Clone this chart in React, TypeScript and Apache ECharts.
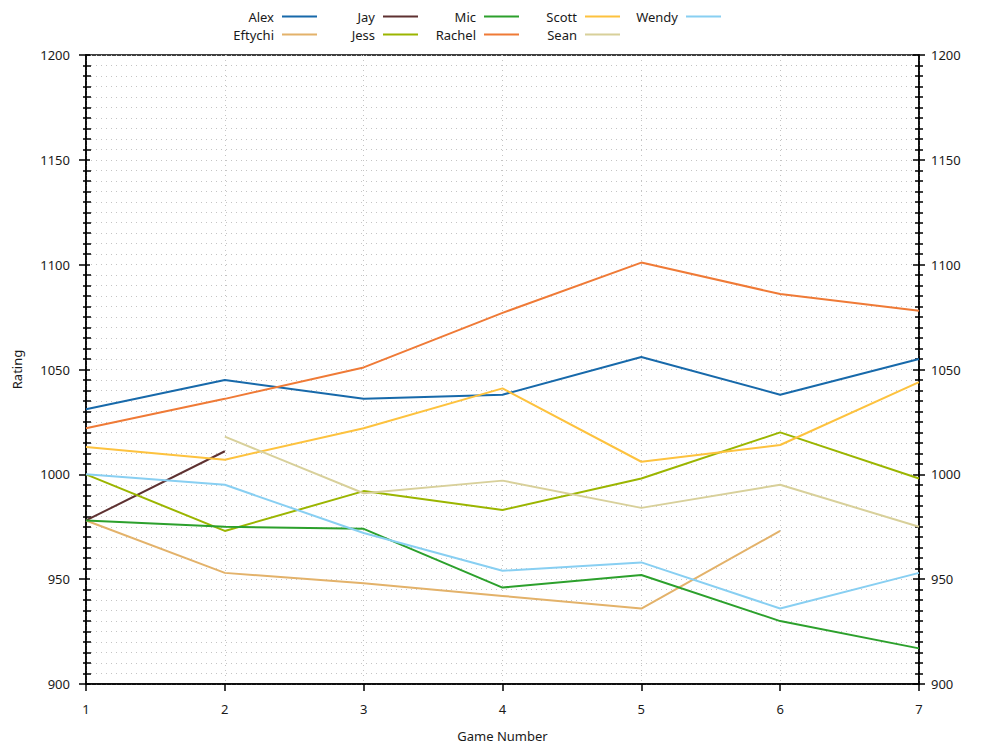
import React, { useEffect, useRef } from "react";
import * as echarts from "echarts";

const games = [1, 2, 3, 4, 5, 6, 7];
const players = ["Alex", "Eftychi", "Jay", "Jess", "Mic", "Rachel", "Scott", "Sean", "Wendy"];
const legendOrder = ["Alex", "Jay", "Mic", "Scott", "Wendy", "Eftychi", "Jess", "Rachel", "Sean"];

const alex = [1031, 1045, 1036, 1038, 1056, 1038, 1055];
const eftychi = [978, 953, 948, 942, 936, 973, null];
const jay = [978, 1011, null, null, null, null, null];
const jess = [1000, 973, 992, 983, 998, 1020, 998];
const mic = [978, 975, 974, 946, 952, 930, 917];
const rachel = [1022, 1036, 1051, 1077, 1101, 1086, 1078];
const scott = [1013, 1007, 1022, 1041, 1006, 1014, 1044];
const sean = [null, 1018, 991, 997, 984, 995, 975];
const wendy = [1000, 995, 972, 954, 958, 936, 953];

const values = [alex, eftychi, jay, jess, mic, rachel, scott, sean, wendy];
const colors = ["#1769aa", "#e3b26a", "#5e3131", "#9bb500", "#2ca02c", "#ef7a36", "#fdc23e", "#d8d09a", "#88cff2"];

const yMin = 900;
const yMax = 1200;
const yStep = 50;

const FONT = "'Noto Sans', 'Open Sans', sans-serif";
const TXT = "#1a1a1a";

function App() {
  const ref = useRef<HTMLDivElement>(null);
  useEffect(() => {
    if (!ref.current) return;
    const chart = echarts.init(ref.current, null, { renderer: "svg" });
    const dotted = { color: "#c4c4c4", width: 1, type: [1, 4] as any };
    const yBase = { type: "value", min: yMin, max: yMax, interval: yStep };
    const fmt = (v: number) => String(v);
    const option: any = {
      animation: false,
      textStyle: { fontFamily: FONT, color: TXT },
      grid: {
        left: 86, right: 81, top: 55, bottom: 66,
        show: true, borderColor: "#000", borderWidth: 1.5, backgroundColor: "transparent",
      },
      legend: {
        data: legendOrder,
        left: 222, top: 10, width: 500, padding: 0,
        orient: "horizontal",
        align: "right",
        itemWidth: 35, itemHeight: 13, itemGap: 5,
        selectedMode: false,
        itemStyle: { opacity: 0, color: "rgba(0,0,0,0)", borderColor: "rgba(0,0,0,0)", borderWidth: 0 },
        textStyle: { fontFamily: FONT, fontSize: 13, color: TXT, width: 52, align: "right", padding: [0, 3, 0, 0], lineHeight: 13 },
      },
      xAxis: {
        type: "value", min: 1, max: 7, interval: 1,
        name: "Game Number", nameLocation: "middle", nameGap: 45,
        nameTextStyle: { fontFamily: FONT, fontSize: 13, color: TXT },
        axisLine: { show: true, lineStyle: { color: "#000", width: 1.5 } },
        axisTick: { show: true, inside: false, length: 7, lineStyle: { color: "#000", width: 1.5 } },
        axisLabel: { margin: 18, fontFamily: FONT, fontSize: 13, color: TXT, formatter: fmt },
        splitLine: { show: true, lineStyle: dotted },
      },
      yAxis: [
        {
          ...yBase, position: "left",
          name: "Rating", nameLocation: "middle", nameGap: 63, nameRotate: 90,
          nameTextStyle: { fontFamily: FONT, fontSize: 13, color: TXT },
          axisLine: { show: true, lineStyle: { color: "#000", width: 1.5 } },
          axisTick: { show: true, inside: false, length: 7, lineStyle: { color: "#000", width: 1.5 } },
          minorTick: { show: true, splitNumber: 10, length: 3, lineStyle: { color: "#000", width: 1.5 } },
          axisLabel: { margin: 16, fontFamily: FONT, fontSize: 13, color: TXT, formatter: fmt },
          splitLine: { show: true, lineStyle: dotted },
          minorSplitLine: { show: true, lineStyle: dotted },
        },
        {
          ...yBase, position: "left",
          axisLine: { show: false },
          axisTick: { show: true, inside: true, length: 4, lineStyle: { color: "#000", width: 1.5 } },
          minorTick: { show: true, splitNumber: 10, length: 5, lineStyle: { color: "#000", width: 1.5 } },
          axisLabel: { show: false },
          splitLine: { show: false },
        },
        {
          ...yBase, position: "right",
          axisLine: { show: true, lineStyle: { color: "#000", width: 1.5 } },
          axisTick: { show: true, inside: false, length: 6, lineStyle: { color: "#000", width: 1.5 } },
          minorTick: { show: true, splitNumber: 10, length: 4, lineStyle: { color: "#000", width: 1.5 } },
          axisLabel: { margin: 12, fontFamily: FONT, fontSize: 13, color: TXT, formatter: fmt },
          splitLine: { show: false },
        },
        {
          ...yBase, position: "right",
          axisLine: { show: false },
          axisTick: { show: true, inside: true, length: 6, lineStyle: { color: "#000", width: 1.5 } },
          minorTick: { show: true, splitNumber: 10, length: 4, lineStyle: { color: "#000", width: 1.5 } },
          axisLabel: { show: false },
          splitLine: { show: false },
        },
      ],
      series: players.map((name, i) => ({
        name,
        type: "line",
        yAxisIndex: 0,
        symbol: "none",
        connectNulls: false,
        color: colors[i],
        lineStyle: { color: colors[i], width: 2 },
        data: games.map((g, j) => [g, values[i][j]]),
      })),
    };
    chart.setOption(option);
    return () => chart.dispose();
  }, []);
  return (
    <div
      ref={ref}
      style={{ position: "fixed", left: 0, top: 0, width: 1000, height: 750, background: "#fff" }}
    />
  );
}

export default App;
